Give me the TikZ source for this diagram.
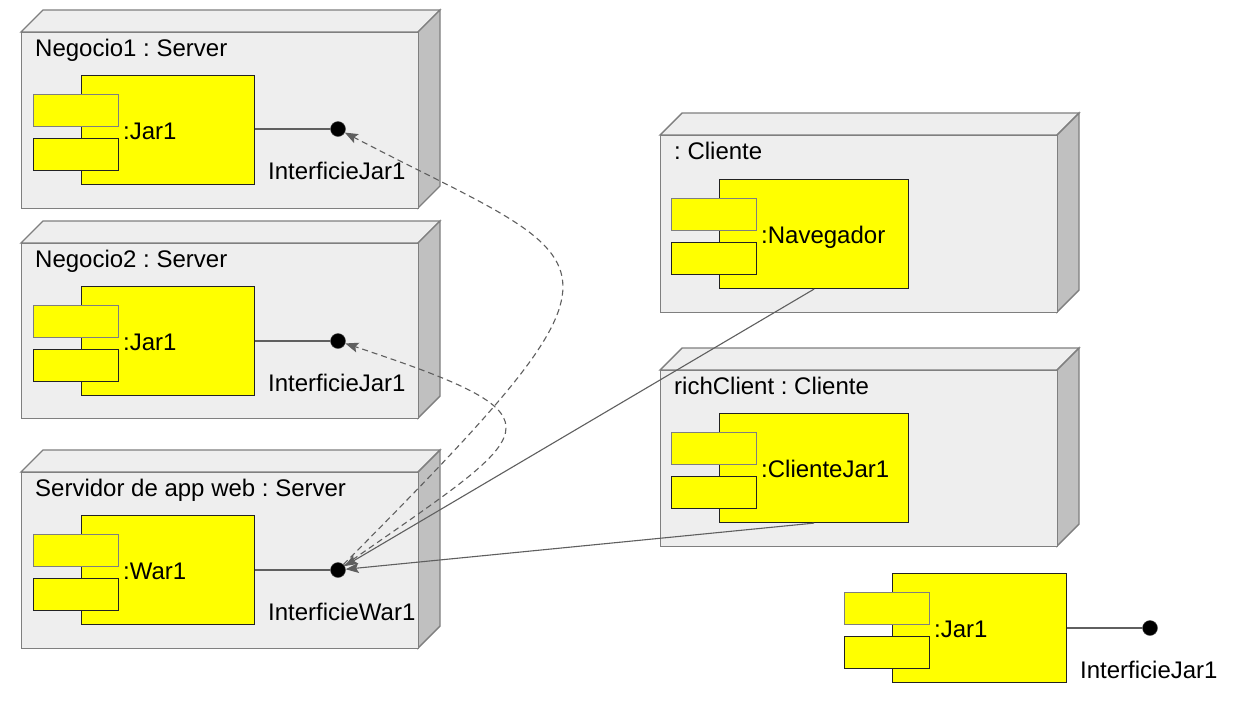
\documentclass[tikz,border=0pt]{standalone}
\usepackage{fontspec}
\setmainfont{Liberation Sans}
\usetikzlibrary{arrows.meta}
\definecolor{nodefront}{HTML}{EEEEEE}
\definecolor{nodeside}{HTML}{C0C0C0}
\definecolor{nodeedge}{HTML}{7F7F7F}
\definecolor{linegray}{HTML}{5F5F5F}
\definecolor{compedge}{HTML}{222222}
\definecolor{compfill}{HTML}{FFFF00}

\tikzset{
  boxedge/.style={draw=nodeedge, line width=1.4pt, line join=miter},
  compbox/.style={draw=compedge, fill=compfill, line width=1.1pt, inner sep=0pt, anchor=north west},
  portbox/.style={fill=compfill, line width=1.1pt, inner sep=0pt, anchor=north west, minimum width=85, minimum height=32},
  iface/.style={circle, fill=black, draw=black!70, inner sep=0pt, minimum size=15},
  lbl/.style={font=\fontsize{24}{28}\selectfont\frenchspacing, inner sep=0pt, anchor=base west},
  link/.style={draw=linegray, line width=1.1pt},
  tip/.style={-{Stealth[length=13pt, width=10pt, inset=2.5pt]}},
  dep/.style={link, dash pattern=on 6pt off 4pt, -{Stealth[length=13pt, width=10pt, inset=2.5pt]}}
}

\newcommand{\umlnodebox}[6]{%
  \path[fill=nodefront, boxedge] (#2,#3) -- (#2+22,#3-22) -- (#4+22,#3-22) -- (#4,#3) -- cycle;
  \path[fill=nodeside, boxedge] (#4,#3) -- (#4+22,#3-22) -- (#4+22,#5-22) -- (#4,#5) -- cycle;
  \node[fill=nodefront, boxedge, anchor=north west, inner sep=0pt,
        minimum width={#4-#2}, minimum height={#5-#3}] (#1) at (#2,#3) {};
  \node[lbl] (#1-title) at (#2+14,#3+24) {#6};
}
\newcommand{\umlcompbox}[5]{%
  \node[compbox, minimum width={#4}, minimum height=109] (#1) at (#2,#3) {};
  \node[portbox, draw=nodeedge] (#1-p1) at (#2-48,#3+19) {};
  \node[portbox, draw=compedge] (#1-p2) at (#2-48,#3+63) {};
  \node[lbl] (#1-lbl) at (#2+42,#3+64) {#5};
}
\newcommand{\umliface}[5]{%
  \node[iface] (#1) at (#3,#4) {};
  \draw[link] (#2.east |- #1.center) -- (#1);
  \node[lbl] (#1-lbl) at (#3-70,#4+50) {#5};
}

\begin{document}
\begin{tikzpicture}[x=1pt, y=-1pt]
\useasboundingbox[fill=white] (0,0) rectangle (1235,702);

\umlnodebox{n1}{21}{32}{418}{208}{Negocio1 : Server}
\umlcompbox{c1}{81}{75}{173}{:Jar1}
\umliface{i1}{c1}{338}{129}{InterficieJar1}

\umlnodebox{n2}{21}{243}{418}{418}{Negocio2 : Server}
\umlcompbox{c2}{81}{286}{173}{:Jar1}
\umliface{i2}{c2}{338}{341}{InterficieJar1}

\umlnodebox{n3}{21}{472}{418}{648}{Servidor de app web : Server}
\umlcompbox{c3}{81}{515}{173}{:War1}
\umliface{i3}{c3}{338}{570}{InterficieWar1}

\umlnodebox{n4}{660}{135}{1057}{312}{: Cliente}
\umlcompbox{c4}{719}{179}{189}{:Navegador}

\umlnodebox{n5}{660}{370}{1057}{546}{richClient : Cliente}
\umlcompbox{c5}{719}{413}{189}{:ClienteJar1}

\umlcompbox{c6}{892}{573}{174}{:Jar1}
\umliface{i6}{c6}{1150}{628}{InterficieJar1}

\draw[link, tip] (c4.south) -- (i3);
\draw[link, tip] (c5.south) -- (i3);
\draw[dep] (i3) .. controls (660,246) and (608,270) .. (i1);
\draw[dep] (i3) .. controls (539,429) and (576,420) .. (i2);
\end{tikzpicture}
\end{document}
